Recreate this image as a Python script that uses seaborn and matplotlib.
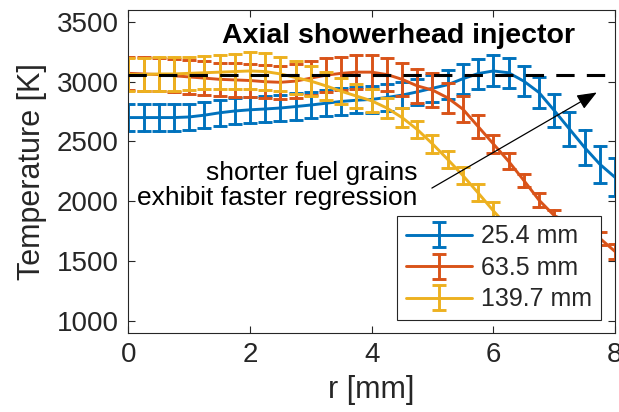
import numpy as np
import pandas as pd
import matplotlib
matplotlib.use("Agg")
import matplotlib.pyplot as plt
import seaborn as sns

# ---------------- data ----------------
r_blue = [0, 0.25, 0.5, 0.75, 1.0, 1.25, 1.5, 1.75, 2.0, 2.25, 2.5, 2.75, 3.0, 3.25,
          3.5, 3.75, 4.0, 4.25, 4.5, 4.75, 5.0, 5.25, 5.5, 5.75, 6.0, 6.25, 6.5,
          6.75, 7.0, 7.25, 7.5, 7.75, 8.0]
T_blue = [2700, 2700, 2700, 2700, 2705, 2720, 2740, 2755, 2765, 2772, 2780, 2792,
          2805, 2820, 2835, 2845, 2852, 2868, 2888, 2915, 2945, 2975, 3025, 3068,
          3090, 3075, 3005, 2910, 2760, 2605, 2450, 2310, 2200]
e_blue = [110, 110, 110, 110, 110, 110, 110, 110, 110, 110, 110, 110, 110, 110,
          110, 110, 110, 110, 110, 110, 115, 120, 125, 125, 130, 125, 125, 130,
          135, 140, 148, 155, 160]

r_red = r_blue
T_red = [3070, 3065, 3060, 3050, 3040, 3030, 3020, 3015, 3010, 3000, 2995, 3005,
         3030, 3055, 3070, 3080, 3080, 3060, 3020, 2965, 2930, 2865, 2770, 2625,
         2480, 2335, 2175, 2010, 1880, 1820, 1760, 1690, 1580]
e_red = [140, 140, 140, 140, 140, 140, 140, 140, 140, 140, 140, 140, 140, 140,
         140, 140, 140, 140, 140, 140, 140, 125, 110, 95, 75, 65, 55, 55, 50, 50,
         50, 55, 60]

r_yellow = [0, 0.25, 0.5, 0.75, 1.0, 1.25, 1.5, 1.75, 2.0, 2.25, 2.5, 2.75, 3.0,
            3.25, 3.5, 3.75, 4.0, 4.25, 4.5, 4.75, 5.0, 5.25, 5.5, 5.75, 6.0,
            6.25, 6.5]
T_yellow = [3060, 3060, 3065, 3065, 3070, 3075, 3080, 3085, 3090, 3085, 3065,
            3035, 3005, 2965, 2920, 2880, 2840, 2780, 2700, 2600, 2480, 2350,
            2215, 2070, 1920, 1780, 1650]
e_yellow = [140, 140, 140, 140, 140, 140, 140, 150, 155, 155, 145, 135, 125, 115,
            110, 100, 95, 85, 80, 75, 75, 70, 70, 70, 70, 70, 70]

labels = ["25.4 mm", "63.5 mm", "139.7 mm"]
colors = ["#0072BD", "#D95319", "#EDB120"]
T_ref = 3060
title_text = "Axial showerhead injector"
note_text = "shorter fuel grains\nexhibit faster regression"
xticks = [0, 2, 4, 6, 8]
yticks = [1000, 1500, 2000, 2500, 3000, 3500]

# long-form table: each point given as (value - err, value + err) so the mean is the value
rows = []
for lab, rr, tt, ee in zip(labels, [r_blue, r_red, r_yellow],
                           [T_blue, T_red, T_yellow], [e_blue, e_red, e_yellow]):
    for x, t, e in zip(rr, tt, ee):
        rows.append({"r": x, "T": t - e, "grain": lab})
        rows.append({"r": x, "T": t + e, "grain": lab})
df = pd.DataFrame(rows)

# ---------------- style ----------------
sns.set_theme(style="ticks")
plt.rcParams["font.family"] = ["Liberation Sans", "DejaVu Sans"]
plt.rcParams["axes.edgecolor"] = "#262626"
plt.rcParams["xtick.color"] = "#262626"
plt.rcParams["ytick.color"] = "#262626"
plt.rcParams["text.color"] = "#262626"
plt.rcParams["axes.labelcolor"] = "#262626"

fig = plt.figure(figsize=(6.19, 4.12), dpi=100)
ax = fig.add_axes([128.3 / 619, 1 - 332.7 / 412, (615 - 128.3) / 619, (332.7 - 10) / 412])

sns.lineplot(data=df, x="r", y="T", hue="grain", hue_order=labels,
             palette=colors, estimator="mean",
             errorbar=lambda v: (v.min(), v.max()),
             err_style="bars", lw=2.1, legend=False, ax=ax,
             err_kws=dict(capsize=4.8, elinewidth=2.1, capthick=2.1))

ax.axhline(T_ref, color="black", lw=2.2, dashes=(6, 4), zorder=5)

ax.set_xlim(0, 8)
ax.set_ylim(900, 3600)
ax.set_xticks(xticks)
ax.set_yticks(yticks)
ax.tick_params(direction="in", length=5, width=0.8, labelsize=20, pad=7,
               top=True, right=True)
for s in ax.spines.values():
    s.set_linewidth(0.8)
ax.set_xlabel("r [mm]", fontsize=22, labelpad=5)
ax.set_ylabel("Temperature [K]", fontsize=22, labelpad=7)

ax.text(4.44, 3385, title_text, fontsize=20.5, fontweight="bold", color="black",
        ha="center", va="center")
ax.text(4.75, 2135, note_text, fontsize=19, color="black", ha="right",
        va="center", multialignment="right", linespacing=1.05)
ax.annotate("", xy=(7.70, 2910), xytext=(4.99, 2110),
            arrowprops=dict(arrowstyle="-|>,head_length=0.6,head_width=0.24",
                            color="black", lw=0.9, mutation_scale=20,
                            shrinkA=0, shrinkB=0))

handles = []
for c in colors:
    h = ax.errorbar([np.nan], [np.nan], yerr=[1], color=c, lw=2.1, capsize=4.8,
                    elinewidth=2.1, capthick=2.1)
    handles.append(h)
leg = ax.legend(handles, labels, loc="lower right",
                bbox_to_anchor=(0.9706, 0.039), borderaxespad=0, fontsize=18,
                frameon=True, fancybox=False, framealpha=1, edgecolor="#262626",
                handlelength=2.65, handletextpad=0.35, borderpad=0.35,
                labelspacing=0.3)
leg.get_frame().set_linewidth(0.8)
leg.set_zorder(10)

fig.savefig("out.png", dpi=100)
